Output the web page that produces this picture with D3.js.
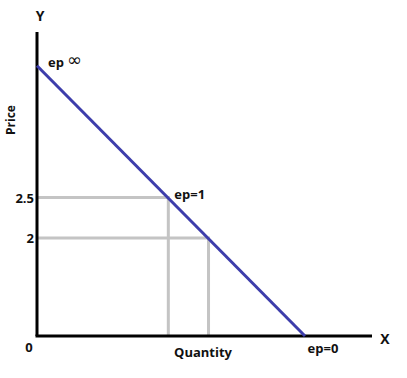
<!DOCTYPE html>
<html lang="en">
<head>
    <meta charset="UTF-8">
    <title>Price elasticity along a demand curve</title>
    <script src="https://d3js.org/d3.v7.min.js"></script>
    <style>
        body { margin: 0; background: #fff; }
        text { font-family: "Open Sans", sans-serif; font-weight: bold; fill: #111; }
    </style>
</head>
<body>
<svg width="407" height="378"></svg>
<script>
    // demand curve (arbitrary units), quantity on x, price on y
    const demandQ = [0, 10];
    const demandP = [8, 0];

    // reference points on the curve and their price labels
    const refQ = [4.9, 6.4];
    const refP = [4.1, 2.9];
    const refLabels = ["2.5", "2"];

    // elasticity notes
    const epLabels = ["ep", "ep=1", "ep=0"];

    const svg = d3.select("svg");

    const x = d3.scaleLinear().domain([0, 12.5]).range([37, 372]);
    const y = d3.scaleLinear().domain([0, 9]).range([336, 32]);

    // grey guide lines
    refQ.forEach((q, i) => {
        svg.append("path")
            .attr("d", d3.line()([[x(0), y(refP[i])], [x(q), y(refP[i])], [x(q), y(0)]]))
            .attr("fill", "none")
            .attr("stroke", "#c4c4c4")
            .attr("stroke-width", 3);
    });

    // axes
    svg.append("line")
        .attr("x1", x(0)).attr("y1", y(0))
        .attr("x2", x(0)).attr("y2", y(9))
        .attr("stroke", "#000").attr("stroke-width", 3);
    svg.append("line")
        .attr("x1", x(0) - 1.5).attr("y1", y(0))
        .attr("x2", x(12.5)).attr("y2", y(0))
        .attr("stroke", "#000").attr("stroke-width", 3);

    // demand line
    const line = d3.line().x(d => x(d[0])).y(d => y(d[1]));
    svg.append("path")
        .datum(demandQ.map((q, i) => [q, demandP[i]]))
        .attr("d", line)
        .attr("fill", "none")
        .attr("stroke", "#3d3dab")
        .attr("stroke-width", 3);

    // price tick labels
    svg.selectAll(".tick-label")
        .data(refLabels)
        .enter()
        .append("text")
        .attr("x", 34)
        .attr("y", (d, i) => y(refP[i]) + 5)
        .attr("text-anchor", "end")
        .style("font-size", "13px")
        .text(d => d);

    // axis letters
    svg.append("text").attr("x", x(0) + 3).attr("y", 21).attr("text-anchor", "middle")
        .style("font-size", "14px").text("Y");
    svg.append("text").attr("x", 385).attr("y", 344).attr("text-anchor", "middle")
        .style("font-size", "14px").text("X");
    svg.append("text").attr("x", 29).attr("y", 352).attr("text-anchor", "middle")
        .style("font-size", "13px").text("0");

    // axis titles
    svg.append("text").attr("x", 203).attr("y", 357).attr("text-anchor", "middle")
        .style("font-size", "13px").text("Quantity");
    svg.append("text")
        .attr("transform", "translate(15,120) rotate(-90)")
        .attr("text-anchor", "middle")
        .style("font-size", "12px").text("Price");

    // elasticity labels
    svg.append("text").attr("x", 48).attr("y", 67)
        .style("font-size", "13px").text(epLabels[0]);
    svg.append("text").attr("x", 67).attr("y", 66)
        .style("font-family", "DejaVu Sans").style("font-weight", "normal")
        .style("font-size", "18px").text("\u221E");
    svg.append("text").attr("x", x(refQ[0]) + 6).attr("y", y(refP[0]) + 1)
        .style("font-size", "13px").text(epLabels[1]);
    svg.append("text").attr("x", x(demandQ[1]) + 18).attr("y", 353).attr("text-anchor", "middle")
        .style("font-size", "13px").text(epLabels[2]);
</script>
</body>
</html>
